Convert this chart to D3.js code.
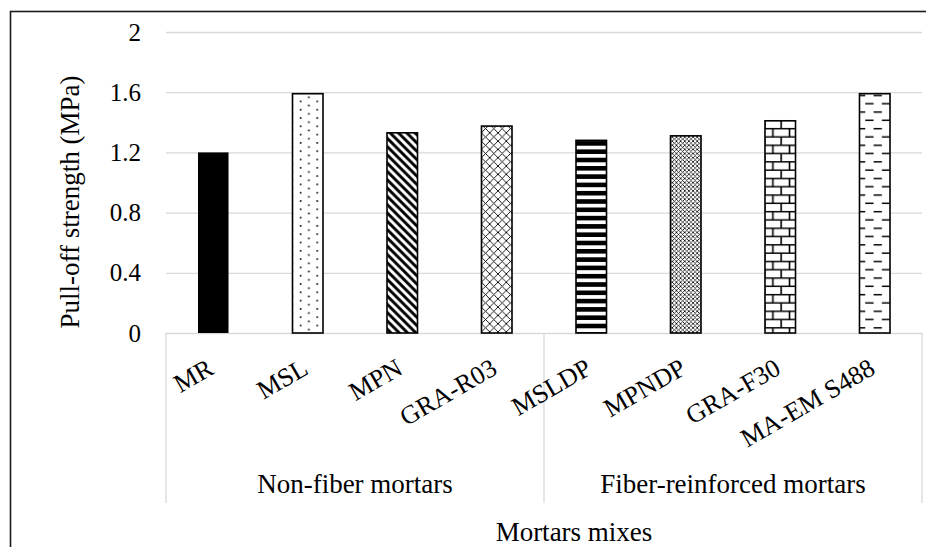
<!DOCTYPE html>
<html><head><meta charset="utf-8">
<script src="https://cdn.jsdelivr.net/npm/d3@7"></script>
<style>html,body{margin:0;padding:0;background:#fff;overflow:hidden}
svg text{font-family:"Liberation Serif","Times New Roman","DejaVu Serif",serif !important;}</style>
</head><body><svg id="c" width="926" height="547"></svg>
<script>
const categories = ["MR","MSL","MPN","GRA-R03","MSLDP","MPNDP","GRA-F30","MA-EM S488"];
const values = [1.2, 1.59, 1.33, 1.375, 1.28, 1.31, 1.41, 1.59];
const patterns = ["solid","dots","diag","diamond","hstripe","fine","brick","dash"];
const groups = [{name:"Non-fiber mortars", from:0, to:4},{name:"Fiber-reinforced mortars", from:4, to:8}];
const yTicks = [0, 0.4, 0.8, 1.2, 1.6, 2];
const yTitle = "Pull-off strength (MPa)";
const xTitle = "Mortars mixes";

const svg = d3.select("#c");
const L = 166, R = 922, T = 32, B = 333;
const x = d3.scaleBand().domain(categories).range([L, R]).paddingInner(0.677).paddingOuter(0.3385);
const y = d3.scaleLinear().domain([0, 2]).range([B, T]);

svg.append("rect").attr("width",926).attr("height",547).attr("fill","#fff");
// outer border
svg.append("rect").attr("x",10.5).attr("y",11.5).attr("width",940).attr("height",560)
  .attr("fill","none").attr("stroke","#1a1a1a").attr("stroke-width",1.6);

// patterns
const s = 8.3;
const defs = svg.append("defs");
function pat(id, w, h){ return defs.append("pattern").attr("id",id).attr("patternUnits","userSpaceOnUse").attr("width",w).attr("height",h); }
let p;
p = pat("dots", 2*s, s);
p.append("rect").attr("width",2*s).attr("height",s).attr("fill","#fff");
p.append("rect").attr("x",1).attr("y",1).attr("width",1.6).attr("height",1.6).attr("fill","#000");
p.append("rect").attr("x",1+s).attr("y",1+s/2).attr("width",1.6).attr("height",1.6).attr("fill","#000");
p = pat("diag", s, s);
p.append("rect").attr("width",s).attr("height",s).attr("fill","#fff");
p.append("path").attr("d",`M${-s},0L${s},${2*s}M0,${-s}L${2*s},${s}M${-s/2},${-s/2}L${s*1.5},${s*1.5}`).attr("stroke","#000").attr("stroke-width",2.9);
p = pat("diamond", s, s);
p.append("rect").attr("width",s).attr("height",s).attr("fill","#fff");
p.append("path").attr("d",`M0,0L${s},${s}M${s},0L0,${s}`).attr("stroke","#000").attr("stroke-width",0.9);
p = pat("hstripe", s, s);
p.append("rect").attr("width",s).attr("height",s).attr("fill","#fff");
p.append("rect").attr("width",s).attr("height",4.6).attr("fill","#000");
p = pat("fine", s/2, s/2);
p.append("rect").attr("width",s/2).attr("height",s/2).attr("fill","#fff");
p.append("path").attr("d",`M0,0L${s/2},${s/2}M${s/2},0L0,${s/2}`).attr("stroke","#000").attr("stroke-width",0.75);
p = pat("brick", 2*s, 2*s);
p.append("rect").attr("width",2*s).attr("height",2*s).attr("fill","#fff");
p.append("path").attr("d",`M0,${s/2}H${2*s}M0,${1.5*s}H${2*s}M1,${s/2}V${1.5*s}M${1+s},${1.5*s}V${2*s}M${1+s},0V${s/2}`).attr("stroke","#000").attr("stroke-width",1.6);
p = pat("dash", 2*s, 2*s);
p.append("rect").attr("width",2*s).attr("height",2*s).attr("fill","#fff");
p.append("path").attr("d",`M${s*0.25},${s*0.5}h${s}M${s*1.25},${s*1.5}h${s}M${s*1.25-2*s},${s*1.5}h${s}`).attr("stroke","#000").attr("stroke-width",1.5);

// gridlines
svg.append("g").selectAll("line").data(yTicks.filter(d=>d>0)).join("line")
  .attr("x1",L).attr("x2",R).attr("y1",d=>y(d)+0.5).attr("y2",d=>y(d)+0.5)
  .attr("stroke","#d9d9d9").attr("stroke-width",1.3);

// y axis labels
const yAxis = d3.axisLeft(y).tickValues(yTicks).tickFormat(d=>String(d)).tickSize(0).tickPadding(25);
const ya = svg.append("g").attr("transform",`translate(${L},0)`).call(yAxis);
ya.attr("font-family",null).attr("font-size",null);
ya.select(".domain").remove();
ya.selectAll("text").style("font-size","25px").attr("fill","#000");

// category frame lines
const fr = svg.append("g").attr("stroke","#d9d9d9").attr("stroke-width",1.3);
fr.append("line").attr("x1",L).attr("x2",R).attr("y1",B+0.5).attr("y2",B+0.5);
const seps = [0,4,8].map(i=> i<8 ? x.step()*i + L : R);
fr.selectAll("line.sep").data(seps).join("line").attr("class","sep")
  .attr("x1",d=>d).attr("x2",d=>d).attr("y1",B).attr("y2",503);

// bars
svg.append("g").selectAll("rect").data(categories).join("rect")
  .attr("x",d=>x(d)).attr("width",x.bandwidth())
  .attr("y",(d,i)=>y(values[i])).attr("height",(d,i)=>y(0)-y(values[i]))
  .attr("fill",(d,i)=>patterns[i]==="solid" ? "#000" : `url(#${patterns[i]})`)
  .attr("stroke",(d,i)=>patterns[i]==="solid" ? "none" : "#000").attr("stroke-width",1.6);

// category labels
svg.append("g").selectAll("text").data(categories).join("text")
  .attr("transform",d=>`translate(${x(d)+x.bandwidth()/2+2},${B+40}) rotate(-30)`)
  .attr("text-anchor","end").style("font-size","26px").attr("fill","#000")
  .text(d=>d);

// group labels
svg.append("g").selectAll("text").data(groups).join("text")
  .attr("x",g=>(L + x.step()*g.from + L + x.step()*g.to)/2).attr("y",493)
  .attr("text-anchor","middle").style("font-size","27px").attr("fill","#000")
  .text(g=>g.name);

// axis titles
svg.append("text").attr("transform",`translate(79,202) rotate(-90)`).attr("text-anchor","middle")
  .style("font-size","27px").attr("fill","#000").text(yTitle);
svg.append("text").attr("x",574).attr("y",541).attr("text-anchor","middle")
  .style("font-size","27px").attr("fill","#000").text(xTitle);
</script></body></html>
